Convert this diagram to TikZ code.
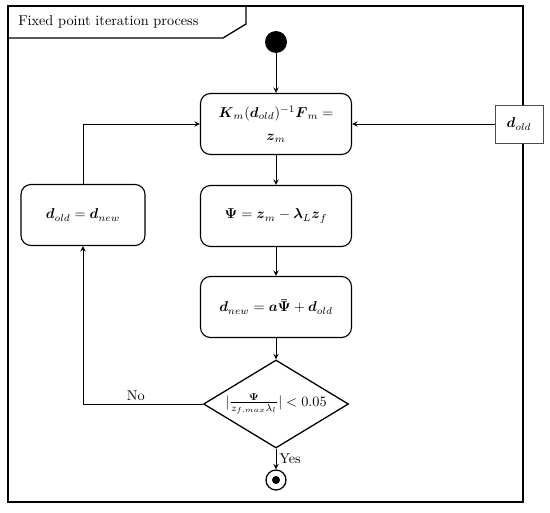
\documentclass[tikz,border=0pt]{standalone}
\usepackage{amsmath}
\usepackage{amssymb}
\usepackage{tikz}
\usetikzlibrary{arrows,shapes.geometric}

\begin{document}
\begin{tikzpicture}[
    x=0.7pt, y=-0.7pt,
    >=stealth,
    font=\normalsize,
    act/.style={rectangle, draw, line width=0.8pt, rounded corners=7pt,
                minimum width=105.7pt, minimum height=42.7pt,
                inner sep=3pt, align=center},
    obj/.style={rectangle, draw=black!70, fill=white, line width=0.6pt,
                minimum width=33.6pt, minimum height=26.6pt, inner sep=2pt},
    dec/.style={diamond, draw, line width=0.9pt, aspect=1.65, inner sep=0pt,
                minimum width=101.5pt, minimum height=61.6pt},
    flw/.style={->, line width=0.7pt},
    lbl/.style={inner sep=2pt},
  ]
  \useasboundingbox (0,0) rectangle (550,512);

  %% ===== frame with title tab =====
  \draw[line width=1.4pt] (8,6) rectangle (523,502);
  \draw[line width=0.9pt] (246,6) -- (246,24) -- (223,38) -- (8,38);
  \node[anchor=west, inner sep=0pt] (title) at (18,22) {Fixed point iteration process};

  %% ===== start / end =====
  \node[circle, fill=black, minimum size=15.4pt, inner sep=0pt] (start) at (276,42) {};
  \node[circle, draw, line width=0.9pt, minimum size=14pt, inner sep=0pt] (stop) at (276,480) {};
  \node[circle, fill=black, minimum size=5.6pt, inner sep=0pt] (stopdot) at (276,480) {};

  %% ===== main column =====
  \node[act] (solve) at (276,124)
    {$\boldsymbol{K}_m(\boldsymbol{d}_{old})^{-1}\boldsymbol{F}_m =$\\[4pt] $\boldsymbol{z}_m$};
  \node[act] (resid) at (276,216)
    {$\boldsymbol{\Psi} = \boldsymbol{z}_m - \boldsymbol{\lambda}_L \boldsymbol{z}_f$};
  \node[act] (update) at (276,307)
    {$\boldsymbol{d}_{new} = \boldsymbol{a}\boldsymbol{\bar{\Psi}} + \boldsymbol{d}_{old}$};
  \node[dec] (check) at (276,404)
    {$|\frac{\boldsymbol{\Psi}}{z_{f,max}\lambda_l}| < 0.05$};

  %% ===== left loop / right input =====
  \node[act, minimum width=86.8pt] (swap) at (83,215)
    {$\boldsymbol{d}_{old} = \boldsymbol{d}_{new}$};
  \node[obj] (dinit) at (519,124) {$\boldsymbol{d}_{old}$};

  %% ===== connectors =====
  \draw[flw] (start) -- (solve.north);
  \draw[flw] (solve.south) -- (resid.north);
  \draw[flw] (resid.south) -- (update.north);
  \draw[flw] (update.south) -- (check.north);
  \draw[flw] (check.south) -- (stop.north)
    node[midway, right, lbl] {Yes};
  \draw[flw] (check.west) -| (swap.south)
    node[pos=0.28, above, lbl] {No};
  \draw[flw] (swap.north) |- (solve.west);
  \draw[flw] (dinit.west) -- (solve.east);

\end{tikzpicture}
\end{document}
